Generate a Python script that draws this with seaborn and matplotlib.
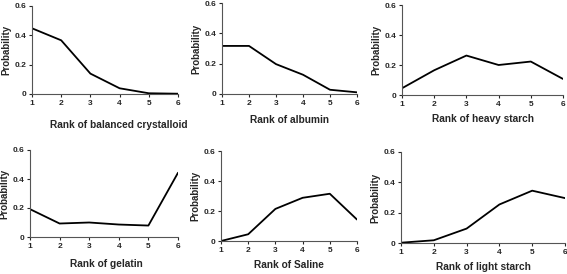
import numpy as np
import pandas as pd
import matplotlib
matplotlib.use("Agg")
import matplotlib.pyplot as plt
import seaborn as sns

# 순위 (x축)
ranks = [1, 2, 3, 4, 5, 6]

# 각 수액별 순위 확률
balanced_crystalloid = [0.448, 0.366, 0.139, 0.039, 0.005, 0.002]
albumin = [0.317, 0.317, 0.197, 0.127, 0.028, 0.011]
heavy_starch = [0.045, 0.165, 0.263, 0.200, 0.223, 0.107]
gelatin = [0.192, 0.093, 0.100, 0.086, 0.079, 0.443]
saline = [0.0, 0.045, 0.214, 0.288, 0.315, 0.143]
light_starch = [0.002, 0.018, 0.095, 0.254, 0.345, 0.296]

names = ["balanced crystalloid", "albumin", "heavy starch",
         "gelatin", "Saline", "light starch"]
series = [balanced_crystalloid, albumin, heavy_starch,
          gelatin, saline, light_starch]

rows = []
for name, vals in zip(names, series):
    for r, v in zip(ranks, vals):
        rows.append({"treatment": name, "rank": r, "prob": v})
df = pd.DataFrame(rows)

sns.set_style("ticks")
plt.rcParams['font.family'] = ['Liberation Sans', 'DejaVu Sans']
plt.rcParams['font.weight'] = 'bold'   # 모든 글자 굵게

W, H = 567, 274
fig = plt.figure(figsize=(W / 100, H / 100), dpi=100)

# 각 패널 위치 (픽셀: 왼쪽, 오른쪽, 위, 아래) - 그림 기준
boxes = [
    (32, 178, 6, 94),
    (222, 357, 3, 94),
    (402, 563, 5, 95),
    (30, 178, 150, 237),
    (221, 357, 151, 241),
    (401, 565, 152, 243),
]
# x 라벨 중심 위치 (픽셀)
label_pos = [(119, 125), (289, 120), (483, 119), (106, 264), (289, 265), (483, 267)]

for name, (l, r, t, b), (lx, ly) in zip(names, boxes, label_pos):
    ax = fig.add_axes([l / W, 1 - b / H, (r - l) / W, (b - t) / H])
    sns.lineplot(data=df[df["treatment"] == name], x="rank", y="prob",
                 color="black", linewidth=1.3, ax=ax)
    ax.set_xlim(1, 6)
    ax.set_ylim(0, 0.6)
    ax.set_xticks(ranks)
    ax.set_yticks([0, 0.2, 0.4, 0.6])
    ax.set_yticklabels(["0", "0.2", "0.4", "0.6"])
    ax.tick_params(labelsize=6, length=2, width=0.8, pad=2)
    sns.despine(ax=ax)
    for s in ["left", "bottom"]:
        ax.spines[s].set_linewidth(0.8)
        ax.spines[s].set_color("#555555")
    ax.set_ylabel("Probability", fontsize=7, fontweight="bold", labelpad=2)
    ax.set_xlabel("Rank of " + name, fontsize=7.3, fontweight="bold", va="center")
    ax.xaxis.set_label_coords((lx - l) / (r - l), -(ly - b) / (b - t))

fig.savefig("out.png", dpi=100)
